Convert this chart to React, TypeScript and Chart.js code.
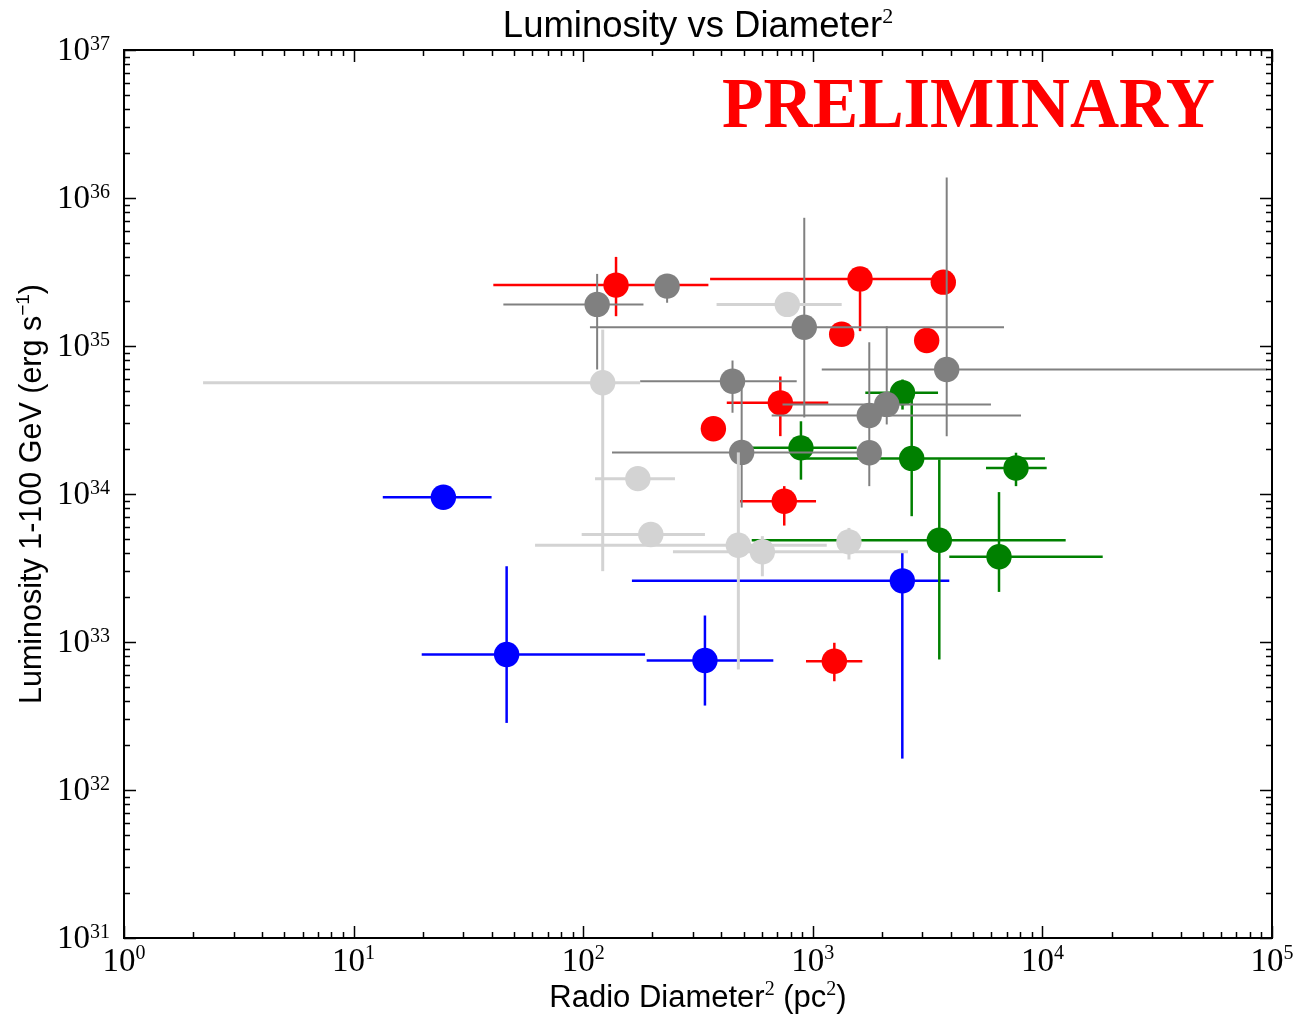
import React, { useEffect, useRef } from "react";
import { Chart, registerables } from "chart.js";

Chart.register(...registerables);

type Pt = { x: number; y: number; xlo: number; xhi: number; ylo: number; yhi: number };

// values (x: pc^2, y: erg/s), with error-bar bounds
const lightGrayPoints: Pt[] = [
  { x: 774, y: 1.91e35, xlo: 381, xhi: 1336, ylo: 1.91e35, yhi: 1.91e35 },
  { x: 121.6, y: 5.64e34, xlo: 2.21, xhi: 177, ylo: 3.01e33, yhi: 1.29e35 },
  { x: 173, y: 1.27e34, xlo: 112.6, xhi: 251, ylo: 1.27e34, yhi: 1.27e34 },
  { x: 197, y: 5.33e33, xlo: 98.5, xhi: 339, ylo: 5.33e33, yhi: 5.33e33 },
  { x: 474, y: 4.51e33, xlo: 61.7, xhi: 1150, ylo: 6.52e32, yhi: 1.91e34 },
  { x: 603, y: 4.07e33, xlo: 246, xhi: 2598, ylo: 2.78e33, yhi: 5.19e33 },
  { x: 1437, y: 4.75e33, xlo: 1437, xhi: 1437, ylo: 3.61e33, yhi: 5.9e33 },
];

const grayPoints: Pt[] = [
  { x: 115, y: 1.91e35, xlo: 44.9, xhi: 183, ylo: 6.94e34, yhi: 3.07e35 },
  { x: 232, y: 2.54e35, xlo: 232, xhi: 232, ylo: 1.96e35, yhi: 2.9e35 },
  { x: 918, y: 1.34e35, xlo: 107, xhi: 6804, ylo: 3.29e34, yhi: 7.35e35 },
  { x: 3830, y: 6.94e34, xlo: 1094, xhi: 95100, ylo: 2.46e34, yhi: 1.376e36 },
  { x: 447, y: 5.78e34, xlo: 177, xhi: 851, ylo: 3.54e34, yhi: 7.98e34 },
  { x: 490, y: 1.91e34, xlo: 133.5, xhi: 1606, ylo: 8.1e33, yhi: 5.35e34 },
  { x: 1762, y: 1.9e34, xlo: 1762, xhi: 1762, ylo: 1.56e34, yhi: 2.27e34 },
  { x: 1762, y: 3.39e34, xlo: 662, xhi: 8068, ylo: 1.13e34, yhi: 1.06e35 },
  { x: 2099, y: 4.03e34, xlo: 738, xhi: 5970, ylo: 2.95e34, yhi: 1.36e35 },
];

const redPoints: Pt[] = [
  { x: 139, y: 2.58e35, xlo: 40.6, xhi: 351, ylo: 1.59e35, yhi: 4.0e35 },
  { x: 1606, y: 2.84e35, xlo: 357, xhi: 3690, ylo: 1.26e35, yhi: 3.0e35 },
  { x: 3701, y: 2.7e35, xlo: 3701, xhi: 3701, ylo: 2.7e35, yhi: 2.7e35 },
  { x: 1336, y: 1.2e35, xlo: 1336, xhi: 1336, ylo: 1.2e35, yhi: 1.2e35 },
  { x: 3133, y: 1.09e35, xlo: 3133, xhi: 3133, ylo: 1.09e35, yhi: 1.09e35 },
  { x: 722, y: 4.13e34, xlo: 422, xhi: 1168, ylo: 2.46e34, yhi: 6.22e34 },
  { x: 369, y: 2.76e34, xlo: 369, xhi: 369, ylo: 2.76e34, yhi: 2.76e34 },
  { x: 751, y: 8.94e33, xlo: 482, xhi: 1033, ylo: 6.12e33, yhi: 1.13e34 },
  { x: 1241, y: 7.42e32, xlo: 934, xhi: 1643, ylo: 5.43e32, yhi: 9.88e32 },
];

const greenPoints: Pt[] = [
  { x: 2459, y: 4.83e34, xlo: 1693, xhi: 3511, ylo: 3.72e34, yhi: 5.94e34 },
  { x: 888, y: 2.05e34, xlo: 474, xhi: 1553, ylo: 1.25e34, yhi: 3.1e34 },
  { x: 2696, y: 1.74e34, xlo: 909, xhi: 10260, ylo: 7.08e33, yhi: 4.7e34 },
  { x: 7674, y: 1.5e34, xlo: 5681, xhi: 10440, ylo: 1.13e34, yhi: 1.9e34 },
  { x: 3556, y: 4.87e33, xlo: 542, xhi: 12630, ylo: 7.62e32, yhi: 1.71e34 },
  { x: 6471, y: 3.77e33, xlo: 3931, xhi: 18310, ylo: 2.18e33, yhi: 1.03e34 },
];

const bluePoints: Pt[] = [
  { x: 24.6, y: 9.5e33, xlo: 13.4, xhi: 39.9, ylo: 9.5e33, yhi: 9.5e33 },
  { x: 46.4, y: 8.23e32, xlo: 19.8, xhi: 186, ylo: 2.84e32, yhi: 3.25e33 },
  { x: 339, y: 7.5e32, xlo: 189, xhi: 673, ylo: 3.72e32, yhi: 1.51e33 },
  { x: 2454, y: 2.59e33, xlo: 163, xhi: 3931, ylo: 1.63e32, yhi: 4.0e33 },
];

const xTickExponents = [0, 1, 2, 3, 4, 5];
const yTickExponents = [31, 32, 33, 34, 35, 36, 37];

const titleText = "Luminosity vs Diameter";
const xLabelText = "Radio Diameter";
const yLabelText = "Luminosity 1-100 GeV (erg s";
const watermarkText = "PRELIMINARY";

const groups = [
  { pts: lightGrayPoints, color: "#d3d3d3", lw: 3 },
  { pts: grayPoints, color: "#808080", lw: 2 },
  { pts: redPoints, color: "#ff0000", lw: 2.5 },
  { pts: greenPoints, color: "#008000", lw: 2.5 },
  { pts: bluePoints, color: "#0000ff", lw: 2.5 },
];

type Part = { t: string; font: string; dy: number };

function drawRich(ctx: CanvasRenderingContext2D, parts: Part[], x: number, y: number, align: string) {
  let total = 0;
  const widths = parts.map((p) => {
    ctx.font = p.font;
    const w = ctx.measureText(p.t).width;
    total += w;
    return w;
  });
  let cur = align === "center" ? x - total / 2 : align === "right" ? x - total : x;
  ctx.textAlign = "left";
  ctx.textBaseline = "alphabetic";
  parts.forEach((p, i) => {
    ctx.font = p.font;
    ctx.fillText(p.t, cur, y + p.dy);
    cur += widths[i];
  });
}

const errorBarPlugin = {
  id: "errorBars",
  beforeDatasetDraw(chart: any, args: any) {
    const g = groups[args.index];
    if (!g) return;
    const xs = chart.scales.x;
    const ys = chart.scales.y;
    const ctx: CanvasRenderingContext2D = chart.ctx;
    const a = chart.chartArea;
    ctx.save();
    ctx.beginPath();
    ctx.rect(a.left, a.top, a.right - a.left, a.bottom - a.top);
    ctx.clip();
    ctx.strokeStyle = g.color;
    ctx.lineWidth = g.lw;
    ctx.lineCap = "butt";
    for (const p of g.pts) {
      const px = xs.getPixelForValue(p.x);
      const py = ys.getPixelForValue(p.y);
      if (p.xlo !== p.xhi) {
        ctx.beginPath();
        ctx.moveTo(xs.getPixelForValue(p.xlo), py);
        ctx.lineTo(xs.getPixelForValue(p.xhi), py);
        ctx.stroke();
      }
      if (p.ylo !== p.yhi) {
        ctx.beginPath();
        ctx.moveTo(px, ys.getPixelForValue(p.ylo));
        ctx.lineTo(px, ys.getPixelForValue(p.yhi));
        ctx.stroke();
      }
    }
    ctx.restore();
  },
};

const framePlugin = {
  id: "frameAndText",
  afterDraw(chart: any) {
    const ctx: CanvasRenderingContext2D = chart.ctx;
    const xs = chart.scales.x;
    const ys = chart.scales.y;
    const a = chart.chartArea;
    ctx.save();
    ctx.fillStyle = "#000";
    ctx.strokeStyle = "#000";

    // ticks (inward, all four sides)
    ctx.lineWidth = 1.5;
    const majorLen = 12;
    const minorLen = 6;
    for (let e = 0; e <= 5; e++) {
      for (let k = 1; k <= 9; k++) {
        const v = k * Math.pow(10, e);
        if (v > 1e5) break;
        const px = Math.round(xs.getPixelForValue(v)) + 0.5;
        const len = k === 1 ? majorLen : minorLen;
        ctx.beginPath();
        ctx.moveTo(px, a.bottom);
        ctx.lineTo(px, a.bottom - len);
        ctx.moveTo(px, a.top);
        ctx.lineTo(px, a.top + len);
        ctx.stroke();
      }
    }
    for (let e = 31; e <= 37; e++) {
      for (let k = 1; k <= 9; k++) {
        const v = k * Math.pow(10, e);
        if (v > 1e37) break;
        const py = Math.round(ys.getPixelForValue(v)) + 0.5;
        const len = k === 1 ? majorLen : minorLen;
        ctx.beginPath();
        ctx.moveTo(a.left, py);
        ctx.lineTo(a.left + len, py);
        ctx.moveTo(a.right, py);
        ctx.lineTo(a.right - len, py);
        ctx.stroke();
      }
    }

    // frame
    ctx.lineWidth = 2;
    ctx.strokeRect(a.left, a.top, a.right - a.left, a.bottom - a.top);

    // tick labels
    const mainFont = "33px 'Liberation Serif', serif";
    const supFont = "20px 'Liberation Serif', serif";
    for (const e of xTickExponents) {
      const px = xs.getPixelForValue(Math.pow(10, e));
      drawRich(
        ctx,
        [
          { t: "10", font: mainFont, dy: 0 },
          { t: String(e), font: supFont, dy: -12 },
        ],
        px,
        a.bottom + 33,
        "center"
      );
    }
    for (const e of yTickExponents) {
      const py = ys.getPixelForValue(Math.pow(10, e));
      drawRich(
        ctx,
        [
          { t: "10", font: mainFont, dy: 0 },
          { t: String(e), font: supFont, dy: -10 },
        ],
        110,
        py + 10,
        "right"
      );
    }

    // title
    const cx = (a.left + a.right) / 2;
    drawRich(
      ctx,
      [
        { t: titleText, font: "36.5px 'Liberation Sans', sans-serif", dy: 0 },
        { t: "2", font: "22px 'Liberation Serif', serif", dy: -14 },
      ],
      cx,
      37,
      "center"
    );

    // x label
    drawRich(
      ctx,
      [
        { t: xLabelText, font: "31px 'Liberation Sans', sans-serif", dy: 0 },
        { t: "2", font: "20px 'Liberation Serif', serif", dy: -12 },
        { t: " (pc", font: "31px 'Liberation Sans', sans-serif", dy: 0 },
        { t: "2", font: "20px 'Liberation Serif', serif", dy: -12 },
        { t: ")", font: "31px 'Liberation Sans', sans-serif", dy: 0 },
      ],
      cx,
      1007,
      "center"
    );

    // y label
    ctx.save();
    ctx.translate(41, (a.top + a.bottom) / 2);
    ctx.rotate(-Math.PI / 2);
    drawRich(
      ctx,
      [
        { t: yLabelText, font: "30.5px 'Liberation Sans', sans-serif", dy: 0 },
        { t: "\u22121", font: "19px 'Liberation Sans', sans-serif", dy: -12 },
        { t: ")", font: "30.5px 'Liberation Sans', sans-serif", dy: 0 },
      ],
      0,
      0,
      "center"
    );
    ctx.restore();

    // watermark
    ctx.fillStyle = "#ff0000";
    ctx.font = "bold 72px 'Liberation Serif', serif";
    ctx.textAlign = "left";
    ctx.textBaseline = "alphabetic";
    ctx.fillText(watermarkText, 722, 127, 493);

    ctx.restore();
  },
};

export default function App() {
  const canvasRef = useRef<HTMLCanvasElement | null>(null);

  useEffect(() => {
    const canvas = canvasRef.current;
    if (!canvas) return;
    const chart = new Chart(canvas, {
      type: "scatter",
      data: {
        datasets: groups.map((g) => ({
          data: g.pts.map((p) => ({ ...p })),
          backgroundColor: g.color,
          borderColor: g.color,
          pointRadius: 12.7,
          pointHoverRadius: 12.7,
          pointBorderWidth: 0,
          showLine: false,
        })),
      },
      options: {
        animation: false,
        responsive: false,
        devicePixelRatio: 1,
        events: [],
        layout: { padding: { left: 124, top: 50, right: 23, bottom: 79 } },
        plugins: {
          legend: { display: false },
          tooltip: { enabled: false },
          title: { display: false },
        },
        scales: {
          x: { type: "logarithmic", min: 1, max: 1e5, display: false },
          y: { type: "logarithmic", min: 1e31, max: 1e37, display: false },
        },
      },
      plugins: [errorBarPlugin, framePlugin],
    });
    return () => chart.destroy();
  }, []);

  return (
    <div style={{ position: "absolute", left: 0, top: 0, width: 1295, height: 1017, background: "#fff" }}>
      <canvas ref={canvasRef} width={1295} height={1017} style={{ width: 1295, height: 1017 }} />
    </div>
  );
}
